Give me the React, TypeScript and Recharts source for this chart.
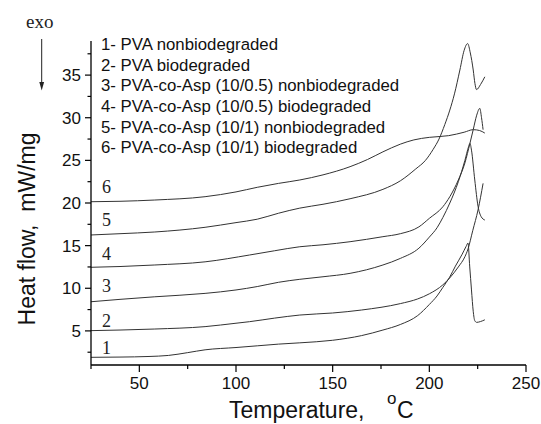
import { LineChart, Line, XAxis, YAxis } from "recharts";

// DSC heat flow curves (temperature in C, mW/mg)
const curve1 = [
  [25, 1.9], [40, 1.93], [55, 2.0], [65, 2.12], [75, 2.45], [84, 2.78], [100, 3.05],
  [111, 3.25], [122, 3.45], [133, 3.6], [150, 3.9], [165, 4.45], [176, 5.1], [185, 5.75],
  [194, 6.8], [200, 8.1], [204, 9.1], [207, 10.1], [210.5, 11.3], [213.5, 12.6], [217, 14.0],
  [219, 14.9], [220, 15.3], [220.9, 12.5], [221.8, 9.8], [222.7, 7.3], [223.5, 6.2],
  [224.5, 6.0], [226.5, 6.1], [228.7, 6.3],
].map(([x, y]) => ({ x, y }));

const curve2 = [
  [25, 5.03], [40, 5.1], [58, 5.22], [84, 5.5], [100, 5.9], [107, 6.08], [120, 6.5],
  [133, 6.86], [150, 7.1], [165, 7.45], [185, 8.2], [194, 8.75], [200, 9.35], [207, 10.4],
  [210.5, 11.2], [215, 12.5], [218.4, 13.7], [220, 14.6], [222.5, 16.8], [225.2, 19.2],
  [227.8, 22.3],
].map(([x, y]) => ({ x, y }));

const curve3 = [
  [25, 8.42], [40, 8.7], [58, 9.0], [84, 9.4], [100, 9.8], [111, 10.2], [122, 10.7],
  [133, 11.05], [145, 11.35], [159, 11.75], [176, 12.73], [185, 13.5], [194.6, 14.7],
  [200, 16.0], [204, 17.1], [207, 18.3], [210.6, 20.0], [215, 22.5], [218.4, 25.0],
  [220.3, 26.6], [221, 27.0], [221.8, 26.2], [223.5, 22.7], [225.2, 19.6], [226.8, 18.4],
  [228.7, 18.0],
].map(([x, y]) => ({ x, y }));

const curve4 = [
  [25, 12.46], [40, 12.55], [58, 12.73], [84, 13.1], [107, 13.9], [120, 14.4], [133, 14.87],
  [145, 15.1], [159, 15.46], [176, 16.05], [185, 16.4], [194.6, 17.2], [200, 18.2],
  [207, 19.56], [210.6, 20.74], [215, 22.7], [218.4, 24.7], [221, 27.0], [222.7, 28.6],
  [224.5, 30.3], [226.1, 31.1], [227, 30.0], [227.8, 28.6],
].map(([x, y]) => ({ x, y }));

const curve5 = [
  [25, 16.25], [40, 16.4], [58, 16.6], [84, 17.15], [100, 17.7], [111, 18.1], [122, 18.8],
  [133, 19.4], [145, 19.85], [159, 20.5], [176, 21.6], [185, 22.6], [193, 24.0], [198, 25.0],
  [202, 26.3], [205, 27.5], [208, 29.2], [210.6, 30.9], [213, 32.8], [215.8, 35.6],
  [218, 37.9], [219.8, 38.7], [221.2, 37.6], [222.7, 35.6], [223.6, 34.0], [224.4, 33.3],
  [226.5, 33.9], [228.7, 34.8],
].map(([x, y]) => ({ x, y }));

const curve6 = [
  [25, 20.15], [40, 20.2], [58, 20.35], [84, 20.74], [100, 21.3], [111, 21.84], [122, 22.3],
  [133, 22.7], [145, 23.3], [159, 24.26], [168, 25.1], [176, 26.0], [185, 26.9], [192, 27.4],
  [200, 27.7], [210, 27.9], [218, 28.3], [222.7, 28.6], [226, 28.5], [228.7, 28.2],
].map(([x, y]) => ({ x, y }));

const curves = [curve1, curve2, curve3, curve4, curve5, curve6];

const xTicks = [25, 50, 75, 100, 125, 150, 175, 200, 225, 250];
const yTicks = [2.5, 5, 7.5, 10, 12.5, 15, 17.5, 20, 22.5, 25, 27.5, 30, 32.5, 35, 37.5];

const legendLines = [
  "1- PVA nonbiodegraded",
  "2- PVA biodegraded",
  "3- PVA-co-Asp (10/0.5) nonbiodegraded",
  "4- PVA-co-Asp (10/0.5) biodegraded",
  "5- PVA-co-Asp (10/1) nonbiodegraded",
  "6- PVA-co-Asp (10/1) biodegraded",
];
const curveNumbers = ["1", "2", "3", "4", "5", "6"];
const numberBaselines = [354, 326.5, 291.5, 260, 226, 193.3];

const SANS = "'Liberation Sans', Arial, sans-serif";
const SERIF = "'Liberation Serif', 'Times New Roman', serif";

function XTick({ x, y, payload }: any) {
  const major = payload.value % 50 === 0;
  return (
    <g>
      <line x1={x} x2={x} y1={y} y2={y + (major ? 7 : 4)} stroke="#000" strokeWidth={1.2} />
      {major && (
        <text x={x} y={y + 24} textAnchor="middle" fontSize={17} fontFamily={SANS} fill="#111">
          {payload.value}
        </text>
      )}
    </g>
  );
}

function YTick({ x, y, payload }: any) {
  const major = payload.value % 5 === 0;
  return (
    <g>
      <line x1={x - (major ? 6 : 3.5)} x2={x} y1={y} y2={y} stroke="#000" strokeWidth={1.2} />
      {major && (
        <text x={x - 10} y={y + 6} textAnchor="end" fontSize={17} fontFamily={SANS} fill="#111">
          {payload.value}
        </text>
      )}
    </g>
  );
}

export default function App() {
  return (
    <div style={{ position: "relative", width: 541, height: 424, background: "#fff" }}>
      <style>{`body{margin:0}`}</style>
      <LineChart width={541} height={424} margin={{ top: 41, right: 15, bottom: 0, left: 0 }}>
        <XAxis
          type="number"
          dataKey="x"
          domain={[25, 250]}
          ticks={xTicks}
          interval={0}
          allowDataOverflow
          height={59}
          tickSize={0}
          tickMargin={0}
          tickLine={false}
          axisLine={{ stroke: "#000", strokeWidth: 1.3 }}
          tick={<XTick />}
        />
        <YAxis
          type="number"
          domain={[1, 39]}
          ticks={yTicks}
          interval={0}
          allowDataOverflow
          width={91}
          tickSize={0}
          tickMargin={0}
          tickLine={false}
          axisLine={{ stroke: "#000", strokeWidth: 1.3 }}
          tick={<YTick />}
        />
        {curves.map((c, i) => (
          <Line
            key={i}
            data={c}
            dataKey="y"
            type="monotone"
            stroke="#333"
            strokeWidth={1}
            dot={false}
            isAnimationActive={false}
          />
        ))}
      </LineChart>
      <svg
        width={541}
        height={424}
        style={{ position: "absolute", left: 0, top: 0, pointerEvents: "none" }}
      >
        <text x={26} y={28} fontSize={19} fontFamily={SERIF} fill="#222">exo</text>
        <line x1={41.7} x2={41.7} y1={39} y2={84} stroke="#222" strokeWidth={1} />
        <polygon points="39.3,82 44.1,82 41.7,90.5" fill="#222" />
        {legendLines.map((t, i) => (
          <text key={t} x={101} y={50 + i * 20.67} fontSize={16.8} fontFamily={SANS} fill="#111">
            {t}
          </text>
        ))}
        {curveNumbers.map((n, i) => (
          <text key={n} x={102} y={numberBaselines[i]} fontSize={18} fontFamily={SERIF} fill="#222">
            {n}
          </text>
        ))}
        <text
          transform="translate(35,229) rotate(-90)"
          textAnchor="middle"
          fontSize={23}
          fontFamily={SANS}
          fill="#111"
          style={{ whiteSpace: "pre" }}
        >
          {"Heat flow,  mW/mg"}
        </text>
        <text x={229} y={418} fontSize={23} fontFamily={SANS} fill="#111">
          Temperature,
        </text>
        <text x={387} y={404} fontSize={17} fontFamily={SANS} fill="#111">o</text>
        <text x={397} y={418} fontSize={23} fontFamily={SANS} fill="#111">C</text>
      </svg>
    </div>
  );
}
